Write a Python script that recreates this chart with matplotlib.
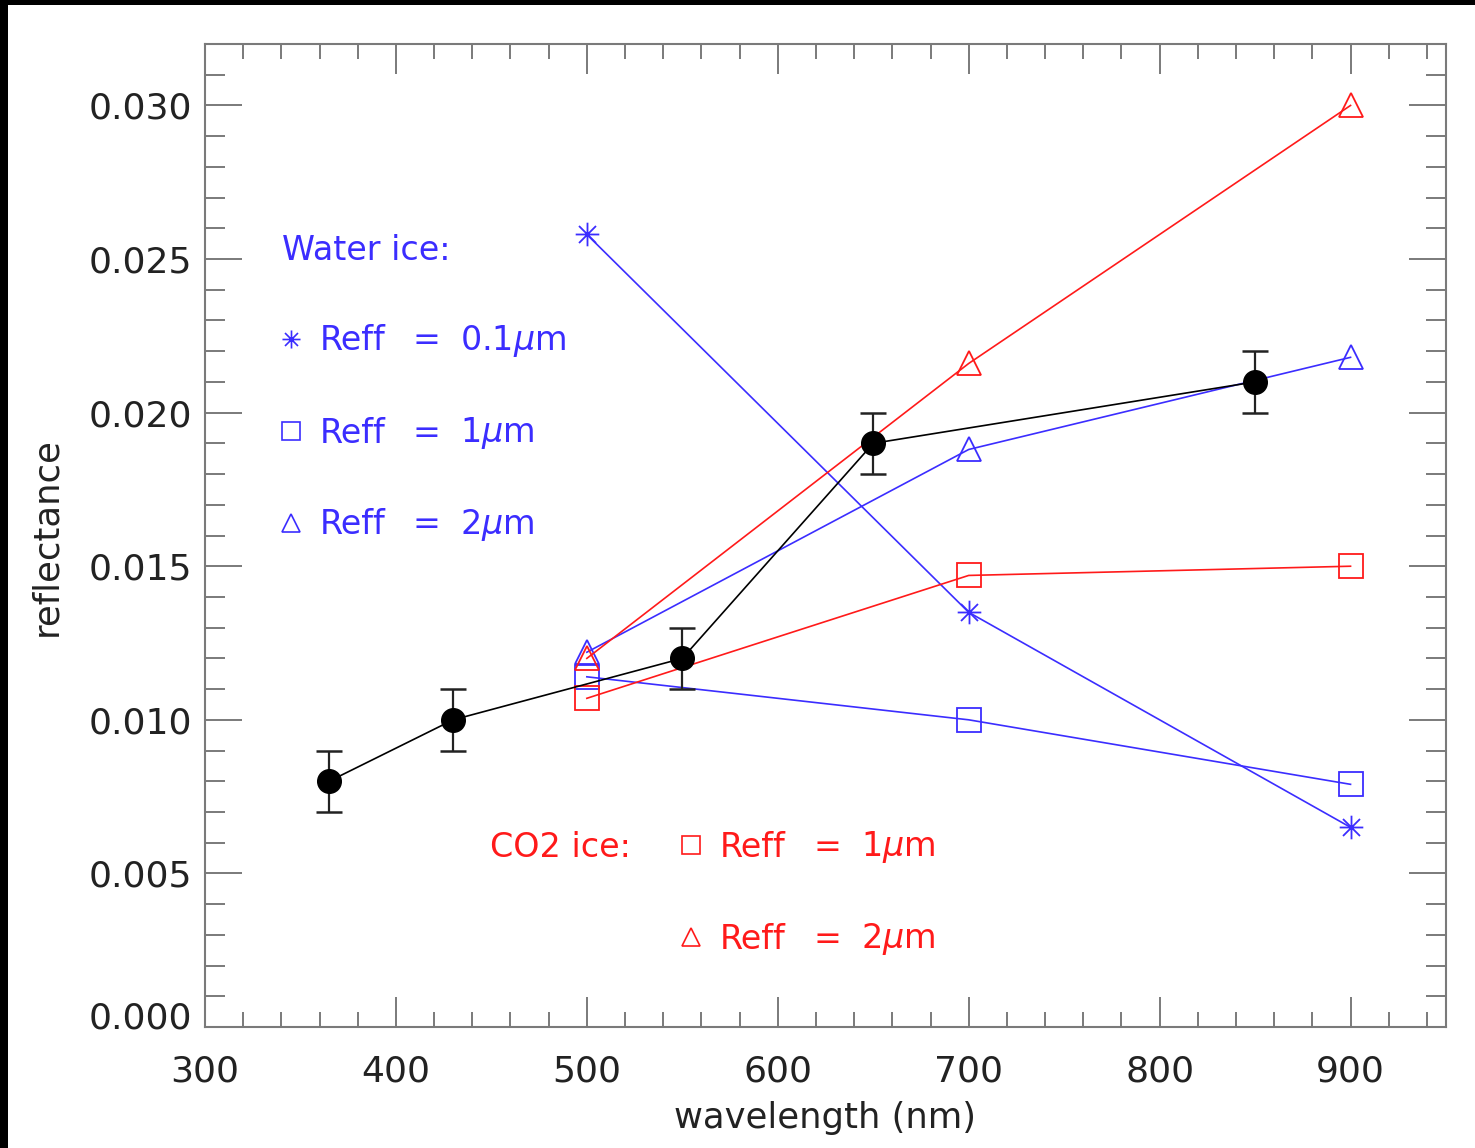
import matplotlib
matplotlib.use("Agg")
import matplotlib.pyplot as plt
import matplotlib.transforms as mtransforms
from matplotlib.path import Path
from matplotlib.patches import Rectangle
from matplotlib.ticker import MultipleLocator

# ---- data ----
obs_wl = [365, 430, 550, 650, 850]
obs_refl = [0.0080, 0.0100, 0.0120, 0.0190, 0.0210]
obs_err = [0.001, 0.001, 0.001, 0.001, 0.001]

model_wl = [500, 700, 900]
water_01 = [0.0258, 0.0135, 0.0065]
water_1 = [0.0114, 0.0100, 0.0079]
water_2 = [0.0122, 0.0188, 0.0218]
co2_1 = [0.0107, 0.0147, 0.0150]
co2_2 = [0.0120, 0.0216, 0.0300]

x_ticks = [300, 400, 500, 600, 700, 800, 900]
y_ticks = [0.000, 0.005, 0.010, 0.015, 0.020, 0.025, 0.030]

water_labels = [r"0.1$\mu$m", r"1$\mu$m", r"2$\mu$m"]
co2_labels = [r"1$\mu$m", r"2$\mu$m"]

BLUE = "#3b2dff"
RED = "#ff1a1a"
GRAY = "#7a7a7a"
TXT = "#222222"

# asterisk marker (IDL psym=2 style)
d = 0.72
ast_verts = [(-1, 0), (1, 0), (0, -1), (0, 1), (-d, -d), (d, d), (-d, d), (d, -d)]
ast_codes = [Path.MOVETO, Path.LINETO] * 4
ASTER = Path(ast_verts, ast_codes)

fig = plt.figure(figsize=(14.75, 11.48), dpi=100)
fig.patch.set_facecolor("white")
# black frame strips on left and top
fig.patches.append(Rectangle((0, 0), 8 / 1475, 1, transform=fig.transFigure,
                             facecolor="black", edgecolor="none", zorder=10))
fig.patches.append(Rectangle((0, 1 - 5 / 1148), 1, 5 / 1148, transform=fig.transFigure,
                             facecolor="black", edgecolor="none", zorder=10))

ax = fig.add_axes([205 / 1475, 121 / 1148, 1241 / 1475, 983 / 1148])

lw = 1.2
ms = 17
mew = 1.3

# water ice (blue)
ax.plot(model_wl, water_01, color=BLUE, lw=lw, marker=ASTER, ms=ms, mew=mew,
        mfc="none", mec=BLUE, zorder=3)
ax.plot(model_wl, water_1, color=BLUE, lw=lw, marker="s", ms=ms, mew=mew,
        mfc="none", mec=BLUE, zorder=3)
ax.plot(model_wl, water_2, color=BLUE, lw=lw, marker="^", ms=ms, mew=mew,
        mfc="none", mec=BLUE, zorder=3)
# CO2 ice (red)
ax.plot(model_wl, co2_1, color=RED, lw=lw, marker="s", ms=ms, mew=mew,
        mfc="none", mec=RED, zorder=3)
ax.plot(model_wl, co2_2, color=RED, lw=lw, marker="^", ms=ms, mew=mew,
        mfc="none", mec=RED, zorder=3)

# observations (black with error bars)
ax.errorbar(obs_wl, obs_refl, yerr=obs_err, color="black", lw=lw, marker="o",
            ms=17, mfc="black", mec="black", ecolor="#222222", elinewidth=1.6,
            capsize=9.5, capthick=1.8, zorder=4)

ax.set_xlim(300, 950)
ax.set_ylim(0, 0.032)
ax.set_xticks(x_ticks)
ax.set_xticklabels([str(v) for v in x_ticks])
ax.set_yticks(y_ticks)
ax.set_yticklabels(["%.3f" % v for v in y_ticks])
ax.xaxis.set_minor_locator(MultipleLocator(20))
ax.yaxis.set_minor_locator(MultipleLocator(0.001))

for s in ax.spines.values():
    s.set_color(GRAY)
    s.set_linewidth(1.5)

ax.tick_params(axis="both", which="both", direction="in", top=True, right=True,
               color=GRAY, width=1.4, labelcolor=TXT)
ax.tick_params(axis="x", which="major", length=21.5, labelsize=26, pad=20)
ax.tick_params(axis="x", which="minor", length=10.8)
ax.tick_params(axis="y", which="major", length=26.5, labelsize=26, pad=9)
ax.tick_params(axis="y", which="minor", length=14.4)

# lowest y label sits slightly above its tick in the reference
lab0 = ax.get_yticklabels()[0]
lab0.set_transform(lab0.get_transform() +
                   mtransforms.ScaledTranslation(0, 12 / 100, fig.dpi_scale_trans))

fig.text(825 / 1475, 1 - 1118 / 1148, "wavelength (nm)", ha="center", va="center",
         fontsize=25.5, color=TXT)
fig.text(46 / 1475, 1 - 537 / 1148, "reflectance", ha="center", va="center",
         rotation=90, fontsize=25.5, color=TXT)

# annotation "legend"
fs = 24
leg_ms = 13


def entry(ax, mx, x_reff, x_eq, x_val, y, marker, color, value):
    ax.plot([mx], [y + 0.002], transform=ax.transAxes, marker=marker, ms=leg_ms,
            mew=1.2, mec=color, mfc="none", ls="none", clip_on=False)
    ax.text(x_reff, y, "Reff", transform=ax.transAxes, color=color,
            fontsize=fs, va="center", ha="left")
    ax.text(x_eq, y, "=", transform=ax.transAxes, color=color,
            fontsize=fs, va="center", ha="left")
    ax.text(x_val, y, value, transform=ax.transAxes, color=color,
            fontsize=fs, va="center", ha="left")


ax.text(0.062, 0.790, "Water ice:", transform=ax.transAxes, color=BLUE,
        fontsize=fs, va="center", ha="left")
for yy, mk, val in zip([0.698, 0.604, 0.511], [ASTER, "s", "^"], water_labels):
    entry(ax, 0.0693, 0.0927, 0.1676, 0.2055, yy, mk, BLUE, val)

ax.text(0.2297, 0.183, "CO2 ice:", transform=ax.transAxes, color=RED,
        fontsize=fs, va="center", ha="left")
for yy, mk, val in zip([0.183, 0.0895], ["s", "^"], co2_labels):
    entry(ax, 0.3916, 0.415, 0.490, 0.5286, yy, mk, RED, val)

fig.savefig("out.png", dpi=100, facecolor="white")
